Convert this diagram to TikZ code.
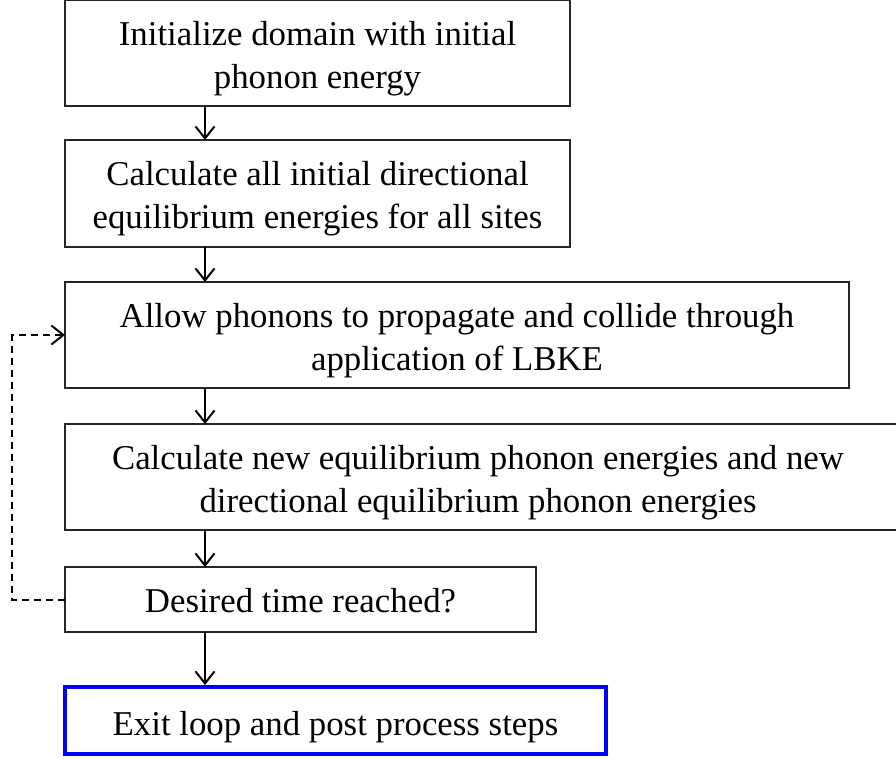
\documentclass[tikz,border=0pt]{standalone}
\usepackage{fontspec}
\setmainfont{Liberation Serif}
\usetikzlibrary{arrows.meta}
\begin{document}
\begin{tikzpicture}[x=1pt,y=-1pt,
  box/.style={draw=black!85, line width=2pt, rectangle, inner sep=0pt, outer sep=0pt, anchor=north west},
  endbox/.style={draw=blue, line width=4.5pt, rectangle, inner sep=0pt, outer sep=0pt, anchor=north west},
  lbl/.style={font=\fontsize{34.8pt}{43pt}\selectfont, align=center, inner sep=0pt},
  flow/.style={line width=2pt, -{Straight Barb[length=12pt,width=19pt,line width=2pt]}},
  loopline/.style={line width=2pt, dash pattern=on 7pt off 5pt, -{Straight Barb[length=12pt,width=19pt,line width=2pt]}}]
\useasboundingbox (0,0) rectangle (896,759);

\node[box, minimum width=505pt, minimum height=106pt] (b1) at (65,0) {};
\node[box, minimum width=505pt, minimum height=107pt] (b2) at (65,140) {};
\node[box, minimum width=784pt, minimum height=106pt] (b3) at (65,282) {};
\node[box, minimum width=833pt, minimum height=106pt] (b4) at (65,424) {};
\node[box, minimum width=471pt, minimum height=65pt] (b5) at (65,567) {};
\node[endbox, minimum width=541pt, minimum height=67pt] (b6) at (65,687) {};

\node[lbl] (t1) at ([yshift=-5.5pt]b1.center) {Initialize domain with initial\\phonon energy};
\node[lbl] (t2) at ([yshift=-5.5pt]b2.center) {Calculate all initial directional\\equilibrium energies for all sites};
\node[lbl] (t3) at ([yshift=-5.5pt]b3.center) {Allow phonons to propagate and collide through\\application of LBKE};
\node[lbl] (t4) at ([xshift=-3.5pt,yshift=-5.5pt]b4.center) {Calculate new equilibrium phonon energies and new\\directional equilibrium phonon energies};
\node[lbl] (t5) at ([yshift=-1pt]b5.center) {Desired time reached?};
\node[lbl] (t6) at ([yshift=-6.5pt]b6.center) {Exit loop and post process steps};

\draw[flow] ([xshift=140pt]b1.south west) -- ([xshift=140pt]b2.north west);
\draw[flow] ([xshift=140pt]b2.south west) -- ([xshift=140pt]b3.north west);
\draw[flow] ([xshift=140pt]b3.south west) -- ([xshift=140pt]b4.north west);
\draw[flow] ([xshift=140pt]b4.south west) -- ([xshift=140pt]b5.north west);
\draw[flow] ([xshift=140pt]b5.south west) -- ([xshift=140pt,yshift=2pt]b6.north west);

\coordinate (lp) at (12,0);
\draw[loopline] (b5.west) -- (b5.west -| lp) |- (b3.west);
\end{tikzpicture}
\end{document}
